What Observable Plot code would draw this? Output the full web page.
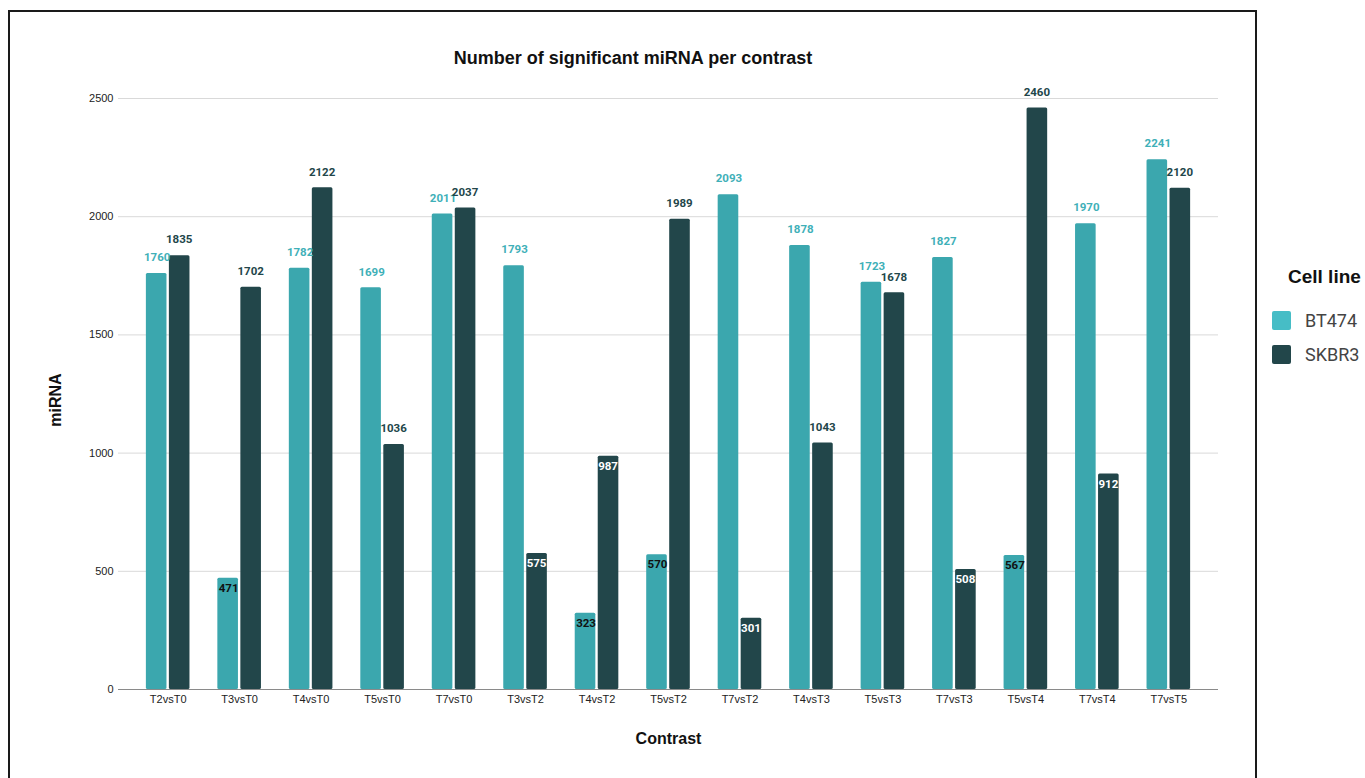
<!DOCTYPE html>
<html>
<head>
<meta charset="utf-8">
<script src="https://cdn.jsdelivr.net/npm/d3@7"></script>
<script src="https://cdn.jsdelivr.net/npm/@observablehq/plot@0.6"></script>
<style>
  html, body { margin: 0; padding: 0; background: #fff; }
  #wrap { position: relative; width: 1365px; height: 778px; overflow: hidden; font-family: "Liberation Sans", Arial, sans-serif; }
  #frame { position: absolute; left: 8px; top: 10px; width: 1249px; height: 800px; border: 2px solid #1a1a1a; box-sizing: border-box; }
  #title { position: absolute; left: 9px; width: 1248px; top: 48px; text-align: center; font-size: 18px; font-weight: bold; color: #111; }
  #chart { position: absolute; left: 0; top: 0; }
  #legend { position: absolute; left: 1272px; top: 266px; color: #444; }
  #legend .head { font-size: 19px; font-weight: bold; color: #111; margin-left: 16px; margin-bottom: 15px; }
  #legend .item { display: flex; align-items: center; height: 34px; font-size: 18px; font-family: Roboto, sans-serif; }
  #legend .sw { width: 19px; height: 19px; border-radius: 2px; margin-right: 14px; }
</style>
</head>
<body>
<div id="wrap">
  <div id="chart"></div>
  <div id="frame"></div>
  <div id="title">Number of significant miRNA per contrast</div>
  <div id="legend"></div>
</div>
<script>
const contrasts = ["T2vsT0","T3vsT0","T4vsT0","T5vsT0","T7vsT0","T3vsT2","T4vsT2","T5vsT2","T7vsT2","T4vsT3","T5vsT3","T7vsT3","T5vsT4","T7vsT4","T7vsT5"];
const cellLines = ["BT474", "SKBR3"];
const bt474 = [1760, 471, 1782, 1699, 2011, 1793, 323, 570, 2093, 1878, 1723, 1827, 567, 1970, 2241];
const skbr3 = [1835, 1702, 2122, 1036, 2037, 575, 987, 1989, 301, 1043, 1678, 508, 2460, 912, 2120];
const yTicks = [0, 500, 1000, 1500, 2000, 2500];

const barColors = {BT474: "#3ba7ae", SKBR3: "#22464a"};
const labelColors = {BT474: "#3fb0b8", SKBR3: "#22464a"};
const insideColors = {BT474: "#111111", SKBR3: "#ffffff"};
const legendColors = {BT474: "#46bdc6", SKBR3: "#22464a"};

const data = [];
contrasts.forEach((c, i) => {
  data.push({contrast: c, cell: "BT474", value: bt474[i]});
  data.push({contrast: c, cell: "SKBR3", value: skbr3[i]});
});
const A = data.filter(d => d.cell === "BT474");
const B = data.filter(d => d.cell === "SKBR3");
const above = d => d.value >= 1000;
const lbl = {fontWeight: "bold", fontSize: 11.5, fontFamily: "Roboto, sans-serif"};

const chart = Plot.plot({
  width: 1365,
  height: 778,
  marginLeft: 118,
  marginRight: 147,
  marginTop: 98,
  marginBottom: 89,
  style: {fontFamily: "'Liberation Sans', Arial, sans-serif", fontSize: "11px", color: "#222", background: "transparent"},
  x: {domain: contrasts, padding: 0.39, round: false, label: null, tickSize: 0, tickPadding: 6},
  y: {domain: [0, 2500], ticks: yTicks, label: null, tickSize: 0, tickPadding: 5, tickFormat: d => String(d)},
  marks: [
    Plot.ruleY(yTicks.filter(t => t > 0), {stroke: "#d9d9d9", strokeWidth: 1}),
    Plot.barY(A, {x: "contrast", y: "value", fill: barColors.BT474, insetRight: 23, rx: 1.5}),
    Plot.barY(B, {x: "contrast", y: "value", fill: barColors.SKBR3, insetLeft: 23, rx: 1.5}),
    Plot.ruleY([0], {stroke: "#8a8a8a", strokeWidth: 1.2}),
    Plot.text(A.filter(above), {x: "contrast", y: "value", text: d => String(d.value), dx: -11, dy: -16, fill: labelColors.BT474, ...lbl}),
    Plot.text(B.filter(above), {x: "contrast", y: "value", text: d => String(d.value), dx: 11, dy: -16, fill: labelColors.SKBR3, ...lbl}),
    Plot.text(A.filter(d => !above(d)), {x: "contrast", y: "value", text: d => String(d.value), dx: -11, dy: 10, fill: insideColors.BT474, ...lbl}),
    Plot.text(B.filter(d => !above(d)), {x: "contrast", y: "value", text: d => String(d.value), dx: 11, dy: 10, fill: insideColors.SKBR3, ...lbl}),
    Plot.text(["Contrast"], {frameAnchor: "bottom", textAnchor: "middle", lineAnchor: "middle", dy: 49, text: d => d, fontWeight: "bold", fontSize: 16, fill: "#111"}),
    Plot.text(["miRNA"], {frameAnchor: "left", textAnchor: "middle", lineAnchor: "middle", dx: -63, dy: 6, rotate: -90, text: d => d, fontWeight: "bold", fontSize: 16, fill: "#111"})
  ]
});
document.getElementById("chart").appendChild(chart);

const legend = document.getElementById("legend");
const head = document.createElement("div");
head.className = "head";
head.textContent = "Cell line";
legend.appendChild(head);
cellLines.forEach(c => {
  const item = document.createElement("div");
  item.className = "item";
  const sw = document.createElement("div");
  sw.className = "sw";
  sw.style.background = legendColors[c];
  const t = document.createElement("span");
  t.textContent = c;
  item.appendChild(sw);
  item.appendChild(t);
  legend.appendChild(item);
});
</script>
</body>
</html>
